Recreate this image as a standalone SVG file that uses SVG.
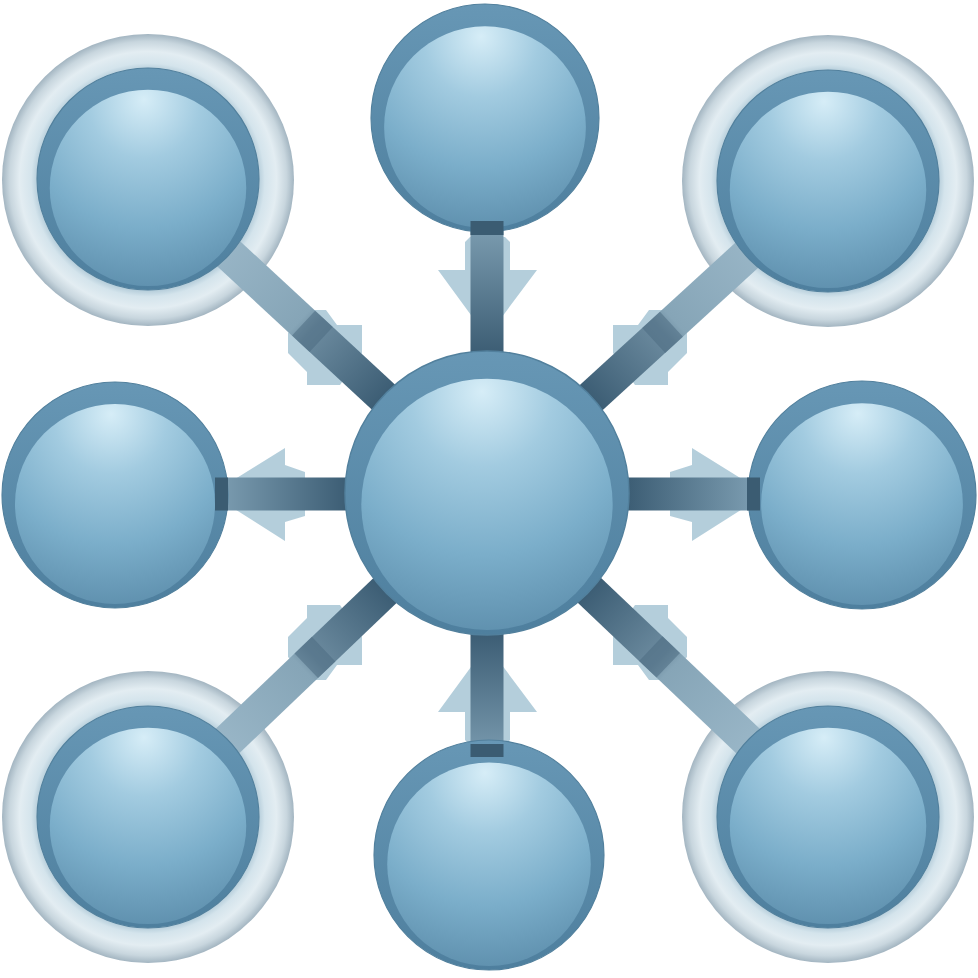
<svg xmlns="http://www.w3.org/2000/svg" xmlns:xlink="http://www.w3.org/1999/xlink" width="978" height="978" viewBox="0 0 978 978">
<defs>
<style>
.arrow{fill:#a7c5d5;opacity:0.85}
.band{fill:#4c6c82;opacity:0.55}
.endband{fill:#3b5c72}
</style>
<linearGradient id="rim" x1="0" y1="0" x2="0" y2="1">
<stop offset="0" stop-color="#6797b5"/>
<stop offset="1" stop-color="#4e7f9e"/>
</linearGradient>
<radialGradient id="disk" cx="0.48" cy="0.1" r="0.95" fx="0.48" fy="0.05">
<stop offset="0" stop-color="#d6edf7"/>
<stop offset="0.3" stop-color="#a2cbe0"/>
<stop offset="0.65" stop-color="#7baeca"/>
<stop offset="1" stop-color="#5c8dab"/>
</radialGradient>
<radialGradient id="halo" cx="0.5" cy="0.5" r="0.5">
<stop offset="0.74" stop-color="#a9c4d3"/>
<stop offset="0.8" stop-color="#d4e4ec"/>
<stop offset="0.88" stop-color="#e3edf2"/>
<stop offset="0.95" stop-color="#c8d6de"/>
<stop offset="1" stop-color="#a3b5c1"/>
</radialGradient>
<linearGradient id="orth" gradientUnits="userSpaceOnUse" x1="140" y1="0" x2="270" y2="0">
<stop offset="0" stop-color="#3c5d74"/>
<stop offset="1" stop-color="#7d9eb2"/>
</linearGradient>
<linearGradient id="diag" gradientUnits="userSpaceOnUse" x1="140" y1="0" x2="360" y2="0">
<stop offset="0" stop-color="#3c5d74"/>
<stop offset="0.45" stop-color="#6d8ca0"/>
<stop offset="0.52" stop-color="#86a5b7"/>
<stop offset="1" stop-color="#98b5c6"/>
</linearGradient>
<g id="ball">
<circle r="1" fill="url(#rim)" stroke="#52809d" stroke-width="0.01"/>
<circle cy="0.08" r="0.885" fill="url(#disk)"/>
</g>
</defs>
<rect width="978" height="978" fill="#ffffff"/>

<g id="halos">
<g id="node-tl-halo"><circle cx="148" cy="180" r="146" fill="url(#halo)"/></g>
<g id="node-tr-halo"><circle cx="828" cy="181" r="146" fill="url(#halo)"/></g>
<g id="node-bl-halo"><circle cx="148" cy="817" r="146" fill="url(#halo)"/></g>
<g id="node-br-halo"><circle cx="828" cy="817" r="146" fill="url(#halo)"/></g>
</g>

<g id="arrowheads">
<polygon class="arrow" points="438,270 465,270 465,242 470,237 505,237 510,242 510,270 537,270 487,337"/>
<polygon class="arrow" points="438,712 465,712 465,740 470,745 505,745 510,740 510,712 537,712 487,645"/>
<polygon class="arrow" points="211,494 285,448 285,465 305,472 305,516 285,522 285,541"/>
<polygon class="arrow" points="766,494 692,448 692,465 670,472 670,516 692,522 692,541"/>
<polygon class="arrow" points="310,310 326,310 337,325 362,325 362,353 340,385 307,385 307,372 288,353 288,333"/>
<polygon class="arrow" points="665,310 649,310 638,325 613,325 613,353 635,385 668,385 668,372 687,353 687,333"/>
<polygon class="arrow" points="310,680 326,680 337,665 362,665 362,637 340,605 307,605 307,618 288,637 288,657"/>
<polygon class="arrow" points="665,680 649,680 638,665 613,665 613,637 635,605 668,605 668,618 687,637 687,657"/>
</g>

<g id="connectors">
<g transform="translate(487,493) rotate(-90)"><rect x="0" y="-16.5" width="375" height="33" fill="url(#orth)"/></g>
<g transform="translate(487,493) rotate(90)"><rect x="0" y="-16.5" width="362" height="33" fill="url(#orth)"/></g>
<g transform="translate(487,494) rotate(180)"><rect x="0" y="-16.5" width="372" height="33" fill="url(#orth)"/></g>
<g transform="translate(487,494)"><rect x="0" y="-16.5" width="375" height="33" fill="url(#orth)"/></g>
<g transform="translate(487,493) rotate(-137.2)"><rect x="0" y="-17" width="462" height="34" fill="url(#diag)"/><rect class="band" x="226" y="-17" width="24" height="34"/></g>
<g transform="translate(487,493) rotate(-42.46)"><rect x="0" y="-17" width="462" height="34" fill="url(#diag)"/><rect class="band" x="226" y="-17" width="24" height="34"/></g>
<g transform="translate(487,493) rotate(136.3)"><rect x="0" y="-17" width="469" height="34" fill="url(#diag)"/><rect class="band" x="226" y="-17" width="24" height="34"/></g>
<g transform="translate(487,493) rotate(43.54)"><rect x="0" y="-17" width="470" height="34" fill="url(#diag)"/><rect class="band" x="226" y="-17" width="24" height="34"/></g>
</g>

<g id="node-center"><use xlink:href="#ball" transform="translate(487,493) scale(142)"/></g>
<g id="node-top"><use xlink:href="#ball" transform="translate(485,118) scale(114)"/></g>
<g id="node-bottom"><use xlink:href="#ball" transform="translate(489,855) scale(115)"/></g>
<g id="node-left"><use xlink:href="#ball" transform="translate(115,495) scale(113)"/></g>
<g id="node-right"><use xlink:href="#ball" transform="translate(862,495) scale(114)"/></g>
<g id="node-tl"><use xlink:href="#ball" transform="translate(148,179) scale(111)"/></g>
<g id="node-tr"><use xlink:href="#ball" transform="translate(828,181) scale(111)"/></g>
<g id="node-bl"><use xlink:href="#ball" transform="translate(148,817) scale(111)"/></g>
<g id="node-br"><use xlink:href="#ball" transform="translate(828,817) scale(111)"/></g>

<g id="connector-ends">
<rect class="endband" x="470.5" y="221" width="33" height="14"/>
<rect class="endband" x="470.5" y="744" width="33" height="13"/>
<rect class="endband" x="215" y="477.5" width="13" height="33"/>
<rect class="endband" x="747" y="477.5" width="13" height="33"/>
</g>
</svg>
